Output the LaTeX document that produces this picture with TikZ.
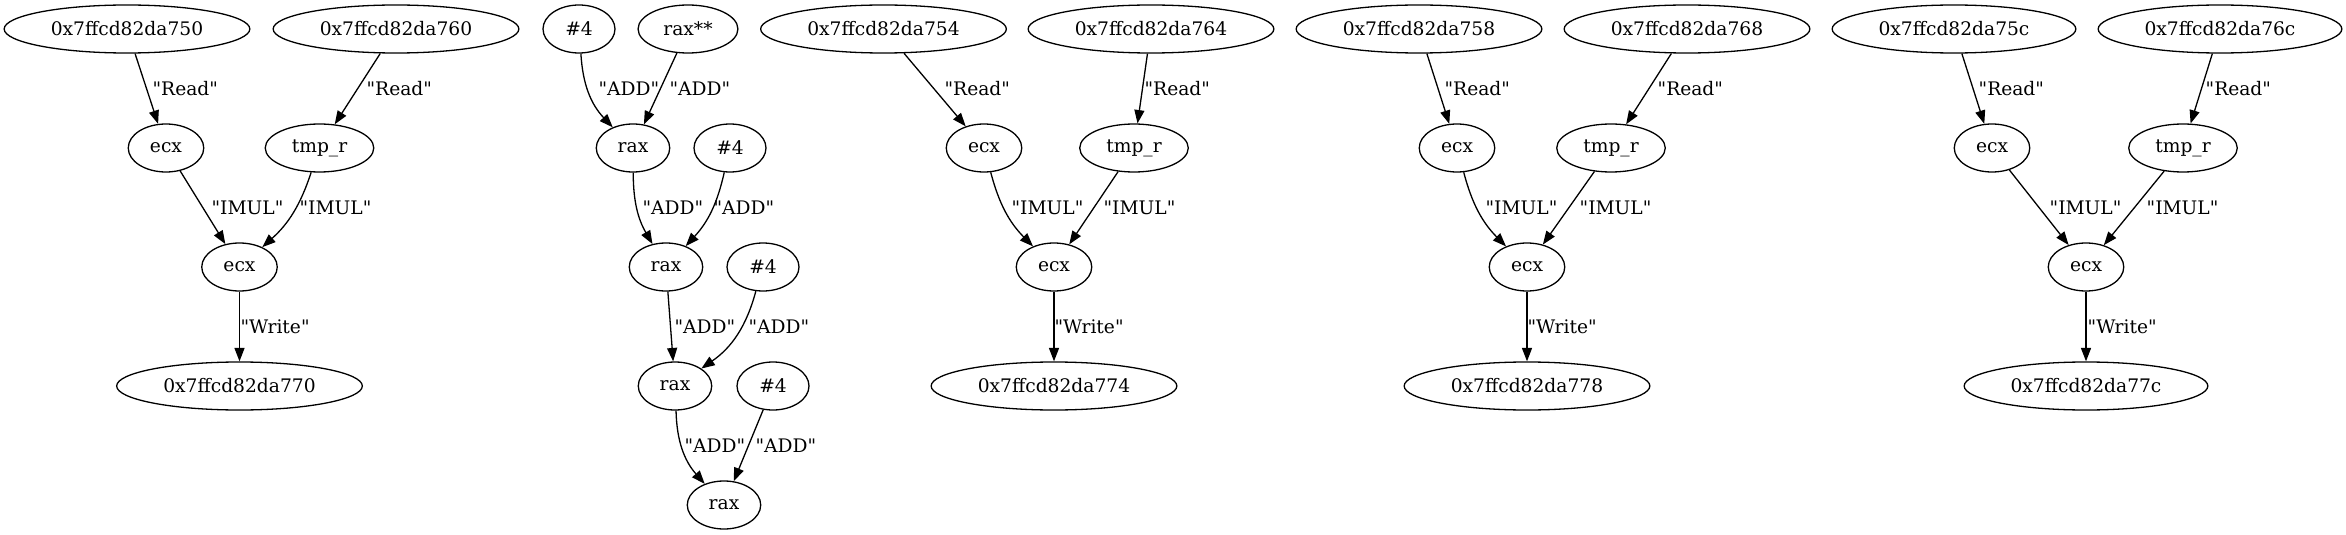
\documentclass[tikz,border=0pt]{standalone}
\usepackage{fontspec}
\setmainfont{DejaVu Serif}
\usetikzlibrary{shapes.geometric,arrows.meta}
\newcommand{\qtd}[1]{\textquotedbl#1\textquotedbl}
\begin{document}
\begin{tikzpicture}[x=0.5pt,y=0.5pt,
  every node/.style={font=\fontsize{9.33}{11}\selectfont},
  nd/.style={ellipse, draw, line width=0.65pt, inner xsep=5.34pt, inner ysep=0pt,
    minimum height=24pt, minimum width=36pt},
  lbl/.style={anchor=west, inner sep=0pt},
  arr/.style={line width=0.65pt, -{Triangle[length=6.7pt,width=5pt]}}]
\useasboundingbox (0,0) rectangle (2346,-535);
% group 1
\node[nd] (n750) at (127,-29) {0x7ffcd82da750};
\node[nd] (n760) at (396,-29) {0x7ffcd82da760};
\node[nd] (e1a) at (166,-148) {ecx};
\node[nd] (t1) at (319.5,-148) {tmp\_r};
\node[nd] (e1b) at (239.5,-267) {ecx};
\node[nd] (n770) at (239.5,-386) {0x7ffcd82da770};
\draw[arr] (n750) -- (e1a) node[lbl] at (152,-88.5) {\qtd{Read}};
\draw[arr] (n760) -- (t1) node[lbl] at (366,-88.5) {\qtd{Read}};
\draw[arr] (e1a) -- (e1b) node[lbl] at (211,-207.5) {\qtd{IMUL}};
\draw[arr] (t1) to[bend left=15] (e1b) node[lbl] at (299,-207.5) {\qtd{IMUL}};
\draw[arr] (e1b) -- (n770) node[lbl] at (240,-326.5) {\qtd{Write}};
% group 2
\node[nd] (h1) at (579,-29) {\#4};
\node[nd] (rs) at (688,-29) {rax**};
\node[nd] (r1) at (633,-148) {rax};
\node[nd] (h2) at (730,-148) {\#4};
\node[nd] (r2) at (666,-267) {rax};
\node[nd] (h3) at (763,-267) {\#4};
\node[nd] (r3) at (675,-386) {rax};
\node[nd] (h4) at (773,-386) {\#4};
\node[nd] (r4) at (724,-505) {rax};
\draw[arr] (h1) to[bend right=20] (r1) node[lbl] at (598,-88.5) {\qtd{ADD}};
\draw[arr] (rs) -- (r1) node[lbl] at (669,-88.5) {\qtd{ADD}};
\draw[arr] (r1) to[bend right=15] (r2) node[lbl] at (642,-207.5) {\qtd{ADD}};
\draw[arr] (h2) to[bend left=15] (r2) node[lbl] at (713,-207.5) {\qtd{ADD}};
\draw[arr] (r2) -- (r3) node[lbl] at (674,-326.5) {\qtd{ADD}};
\draw[arr] (h3) to[bend left=20] (r3) node[lbl] at (748,-326.5) {\qtd{ADD}};
\draw[arr] (r3) to[bend right=20] (r4) node[lbl] at (684,-445.5) {\qtd{ADD}};
\draw[arr] (h4) -- (r4) node[lbl] at (755,-445.5) {\qtd{ADD}};
% group 3
\node[nd] (n754) at (883.5,-29) {0x7ffcd82da754};
\node[nd] (n764) at (1151,-29) {0x7ffcd82da764};
\node[nd] (e3a) at (984,-148) {ecx};
\node[nd] (t3) at (1134,-148) {tmp\_r};
\node[nd] (e3b) at (1054,-267) {ecx};
\node[nd] (n774) at (1054,-386) {0x7ffcd82da774};
\draw[arr] (n754) -- (e3a) node[lbl] at (944,-88.5) {\qtd{Read}};
\draw[arr] (n764) -- (t3) node[lbl] at (1144,-88.5) {\qtd{Read}};
\draw[arr] (e3a) to[bend right=15] (e3b) node[lbl] at (1011,-207.5) {\qtd{IMUL}};
\draw[arr] (t3) -- (e3b) node[lbl] at (1103,-207.5) {\qtd{IMUL}};
\draw[arr] (e3b) -- (n774) node[lbl] at (1054,-326.5) {\qtd{Write}};
% group 4
\node[nd] (n758) at (1419,-29) {0x7ffcd82da758};
\node[nd] (n768) at (1687,-29) {0x7ffcd82da768};
\node[nd] (e4a) at (1457,-148) {ecx};
\node[nd] (t4) at (1611,-148) {tmp\_r};
\node[nd] (e4b) at (1527,-267) {ecx};
\node[nd] (n778) at (1527,-386) {0x7ffcd82da778};
\draw[arr] (n758) -- (e4a) node[lbl] at (1444,-88.5) {\qtd{Read}};
\draw[arr] (n768) -- (t4) node[lbl] at (1657,-88.5) {\qtd{Read}};
\draw[arr] (e4a) to[bend right=15] (e4b) node[lbl] at (1485,-207.5) {\qtd{IMUL}};
\draw[arr] (t4) -- (e4b) node[lbl] at (1579,-207.5) {\qtd{IMUL}};
\draw[arr] (e4b) -- (n778) node[lbl] at (1527,-326.5) {\qtd{Write}};
% group 5
\node[nd] (n75c) at (1954,-29) {0x7ffcd82da75c};
\node[nd] (n76c) at (2220,-29) {0x7ffcd82da76c};
\node[nd] (e5a) at (1992,-148) {ecx};
\node[nd] (t5) at (2183,-148) {tmp\_r};
\node[nd] (e5b) at (2086,-267) {ecx};
\node[nd] (n77c) at (2086,-386) {0x7ffcd82da77c};
\draw[arr] (n75c) -- (e5a) node[lbl] at (1978,-88.5) {\qtd{Read}};
\draw[arr] (n76c) -- (t5) node[lbl] at (2205,-88.5) {\qtd{Read}};
\draw[arr] (e5a) -- (e5b) node[lbl] at (2049,-207.5) {\qtd{IMUL}};
\draw[arr] (t5) -- (e5b) node[lbl] at (2146,-207.5) {\qtd{IMUL}};
\draw[arr] (e5b) -- (n77c) node[lbl] at (2087,-326.5) {\qtd{Write}};
\end{tikzpicture}
\end{document}
